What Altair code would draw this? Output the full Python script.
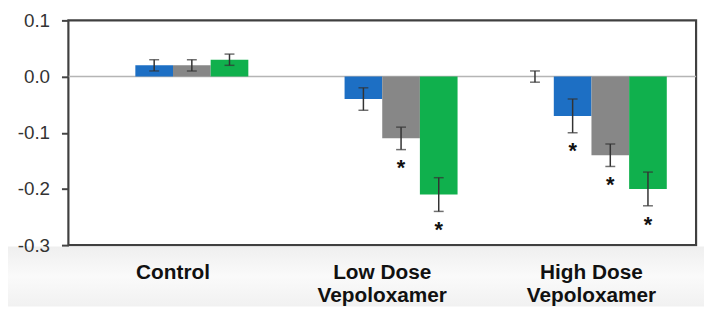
import altair as alt
import pandas as pd

groups = ["Control", "Low Dose|Vepoloxamer", "High Dose|Vepoloxamer"]
series = ["S0", "Blue", "Gray", "Green"]
colors = ["#ffffff", "#1d6fc4", "#878787", "#10b04d"]

values = {
    "S0":    [0.0, 0.0, 0.0],
    "Blue":  [0.02, -0.04, -0.07],
    "Gray":  [0.02, -0.11, -0.14],
    "Green": [0.03, -0.21, -0.20],
}
errors = {
    "S0":    [0.0, 0.0, 0.01],
    "Blue":  [0.01, 0.02, 0.03],
    "Gray":  [0.01, 0.02, 0.02],
    "Green": [0.01, 0.03, 0.03],
}
signif = {
    "S0":    [False, False, False],
    "Blue":  [False, False, True],
    "Gray":  [False, True, True],
    "Green": [False, True, True],
}
y_ticks = [-0.3, -0.2, -0.1, 0.0, 0.1]

rows = []
for s in series:
    for i, g in enumerate(groups):
        v = values[s][i]
        e = errors[s][i]
        rows.append({"group": g, "series": s, "value": v, "err": e,
                     "lo": v - e, "hi": v + e, "star": "*" if signif[s][i] else ""})
df = pd.DataFrame(rows)

W, H = 634, 227
PT = 11

x_enc = alt.X("group:N", sort=groups,
              scale=alt.Scale(paddingInner=0.28, paddingOuter=0.14),
              axis=alt.Axis(title=None, labelAngle=0, ticks=False, domain=False,
                            labelExpr="split(datum.label, '|')",
                            labelFont="Liberation Sans", labelFontSize=21,
                            labelFontWeight="bold", labelColor="#111111",
                            labelLineHeight=23, labelPadding=17, zindex=1))
xo_enc = alt.XOffset("series:N", sort=series,
                     scale=alt.Scale(paddingInner=0, paddingOuter=0))
y_scale = alt.Scale(domain=[-0.3, 0.1], nice=False, zero=False)

base = alt.Chart(df)

bg = alt.Chart(pd.DataFrame({"k": [0]})).mark_rect(
    color=alt.Gradient(gradient="linear", x1=0, y1=0, x2=0, y2=1,
                       stops=[alt.GradientStop(offset=0, color="#efefef"),
                              alt.GradientStop(offset=0.5, color="#fafafa"),
                              alt.GradientStop(offset=1, color="#f1f1f1")])
).encode(x=alt.value(-61), x2=alt.value(W + 8), y=alt.value(H + 1.5), y2=alt.value(H + 62))

zero = alt.Chart(pd.DataFrame({"z": [0.0]})).mark_rule(color="#b5b5b5", strokeWidth=1.5).encode(
    y=alt.Y("z:Q", scale=y_scale))

bars = base.mark_bar().encode(
    x=x_enc, xOffset=xo_enc,
    y=alt.Y("value:Q", scale=y_scale,
            axis=alt.Axis(title=None, values=y_ticks, grid=False, domain=False,
                          labelExpr="datum.value < 0 ? '-' + format(-datum.value, '.1f') : format(datum.value, '.1f')",
                          labelFont="Liberation Sans", labelFontSize=19, labelColor="#333333",
                          tickSize=7, tickWidth=2, tickColor="#444444", labelPadding=12,
                          zindex=1)),
    y2=alt.Y2(datum=0),
    color=alt.Color("series:N", sort=series,
                    scale=alt.Scale(domain=series, range=colors), legend=None),
)

eb = base.transform_filter("datum.err > 0")
rules = eb.mark_rule(color="#333333", strokeWidth=1.5).encode(
    x=x_enc, xOffset=xo_enc, y=alt.Y("lo:Q", scale=y_scale), y2="hi:Q")
caps_lo = eb.mark_tick(color="#333333", size=10, thickness=1.5).encode(
    x=x_enc, xOffset=xo_enc, y=alt.Y("lo:Q", scale=y_scale))
caps_hi = eb.mark_tick(color="#333333", size=10, thickness=1.5).encode(
    x=x_enc, xOffset=xo_enc, y=alt.Y("hi:Q", scale=y_scale))

stars = base.transform_filter("datum.star != ''").mark_text(
    font="Liberation Sans", fontSize=22, fontWeight="bold", color="#111111",
    baseline="alphabetic", dy=26).encode(
    x=x_enc, xOffset=xo_enc, y=alt.Y("lo:Q", scale=y_scale), text="star:N")

chart = alt.layer(bg, zero, bars, rules, caps_lo, caps_hi, stars).properties(
    width=W, height=H,
    padding={"left": 61, "top": PT, "right": 8, "bottom": 62},
    autosize="none",
    background="#ffffff",
).configure_view(stroke="#404040", strokeWidth=2.2)

chart.save("out.html", embed_options={"renderer": "svg", "actions": False})
